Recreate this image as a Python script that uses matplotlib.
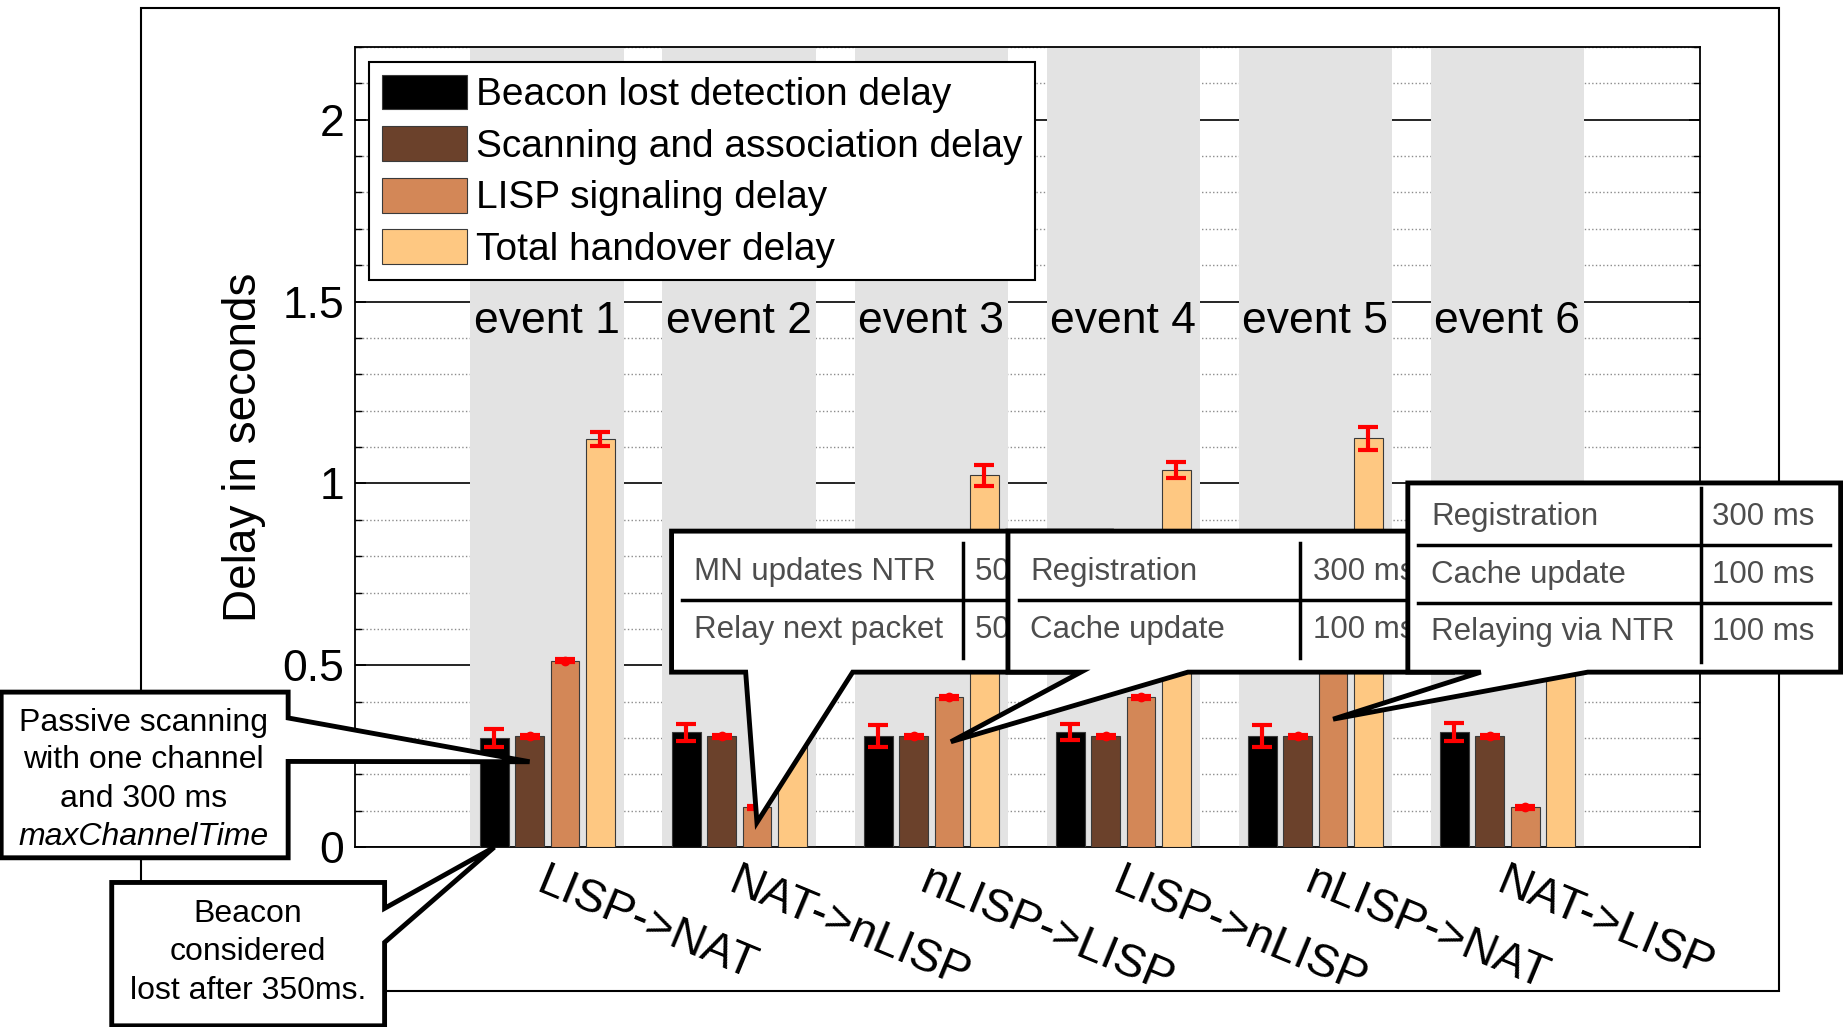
import matplotlib
matplotlib.use('Agg')
import matplotlib.pyplot as plt
import numpy as np
from matplotlib.patches import Polygon, Rectangle
from matplotlib.lines import Line2D
from matplotlib.transforms import Bbox, TransformedBbox
from matplotlib.ticker import MultipleLocator, FormatStrFormatter

plt.rcParams['font.family'] = ['Liberation Sans', 'DejaVu Sans']

#==================== data ====================
transitions = ['LISP->NAT', 'NAT->nLISP', 'nLISP->LISP', 'LISP->nLISP', 'nLISP->NAT', 'NAT->LISP']
events = ['event 1', 'event 2', 'event 3', 'event 4', 'event 5', 'event 6']
series_names = ['Beacon lost detection delay', 'Scanning and association delay',
                'LISP signaling delay', 'Total handover delay']

beacon = [0.300, 0.316, 0.305, 0.316, 0.305, 0.316]
scanning = [0.305, 0.305, 0.305, 0.305, 0.305, 0.305]
lisp_sig = [0.513, 0.110, 0.412, 0.412, 0.515, 0.110]
total = [1.122, 0.730, 1.023, 1.036, 1.124, 0.730]

beacon_err = [0.025, 0.023, 0.030, 0.022, 0.030, 0.025]
scanning_err = [0.004, 0.004, 0.004, 0.004, 0.004, 0.004]
lisp_err = [0.004, 0.004, 0.004, 0.004, 0.004, 0.004]
total_err = [0.020, 0.020, 0.029, 0.022, 0.031, 0.020]

# callout tables
ntr_rows = ['MN updates NTR', 'Relay next packet']
ntr_vals = ['50 ms', '50 ms']
lisp_rows = ['Registration', 'Cache update']
lisp_vals = ['300 ms', '100 ms']
nat_rows = ['Registration', 'Cache update', 'Relaying via NTR']
nat_vals = ['300 ms', '100 ms', '100 ms']

colors = ['#000000', '#6b412b', '#d38757', '#fec882']

#==================== figure / axes ====================
W, H = 1567.0, 874.0   # reference layout grid


def fx(x):
    return x / W


def fy(y):
    return 1 - y / H


fig = plt.figure(figsize=(18.43, 10.27), dpi=100)
ax = fig.add_axes([fx(302), fy(721), fx(1445) - fx(302), fy(40) - fy(721)])

centers = np.arange(1, len(events) + 1)
offsets = [-0.276, -0.092, 0.092, 0.276]
bar_w = 0.15

ax.set_xlim(0, 7)
ax.set_ylim(0, 2.2)

# gray event bands
for c in centers:
    ax.axvspan(c - 0.4, c + 0.4, color='#e3e3e3', lw=0, zorder=1)

vals = [beacon, scanning, lisp_sig, total]
errs = [beacon_err, scanning_err, lisp_err, total_err]
marks = [None, 'o', 'o', None]
handles = []
for i in range(4):
    b = ax.bar(centers + offsets[i], vals[i], width=bar_w, color=colors[i],
               edgecolor='#3a3a3a', linewidth=0.8, zorder=3, label=series_names[i])
    handles.append(b)
    ax.errorbar(centers + offsets[i], vals[i], yerr=errs[i], fmt='none' if marks[i] is None else marks[i],
                color='red', ecolor='red', elinewidth=3, capsize=7, capthick=3,
                markersize=6, zorder=4)

for c, ev in zip(centers, events):
    ax.text(c, 1.445, ev, ha='center', va='center', fontsize=32, zorder=2)

#==================== axis styling ====================
ax.set_yticks([0, 0.5, 1, 1.5, 2])
ax.yaxis.set_minor_locator(MultipleLocator(0.1))
ax.yaxis.set_major_formatter(FormatStrFormatter('%g'))
ax.tick_params(axis='y', which='both', direction='in', left=True, right=True, labelsize=32, pad=8)
ax.tick_params(axis='y', which='major', length=8, width=1.2)
ax.tick_params(axis='y', which='minor', length=5, width=1.0)
ax.set_xticks(centers)
ax.set_xticklabels(transitions, rotation=-22.5, ha='left', va='top', rotation_mode='anchor', fontsize=33.5)
ax.tick_params(axis='x', direction='in', top=True, length=6, pad=9)

ax.yaxis.grid(True, which='major', color='black', lw=1.2, ls='-')
ax.yaxis.grid(True, which='minor', color='#8c8c8c', lw=1.0, ls=':')
ax.set_axisbelow(True)
for s in ax.spines.values():
    s.set_linewidth(1.3)

ax.set_ylabel('Delay in seconds', fontsize=33, labelpad=12)

leg = ax.legend(handles=handles, loc='upper left', bbox_to_anchor=(0.0105, 0.981), fontsize=28,
                frameon=True, fancybox=False, edgecolor='black', framealpha=1, borderaxespad=0,
                handlelength=2.18, handleheight=1.0, handletextpad=0.25, labelspacing=0.33, borderpad=0.32)
leg.get_frame().set_linewidth(1.5)

# outer frame around the plot
fig.add_artist(Rectangle((fx(120), fy(843)), fx(1513) - fx(120), fy(7) - fy(843),
                         transform=fig.transFigure, fill=False, ec='black', lw=1.5, zorder=0.5))


#==================== callouts ====================
def to_fig(x, y):
    p = ax.transData.transform((x, y))
    return fig.transFigure.inverted().transform(p)


def callout(box, wedge, tip, side, z):
    L, T, R, B = fx(box[0]), fy(box[1]), fx(box[2]), fy(box[3])
    if side == 'bottom':
        pts = [(L, T), (R, T), (R, B), (fx(wedge[1]), B), tip, (fx(wedge[0]), B), (L, B)]
    else:
        pts = [(L, T), (R, T), (R, fy(wedge[0])), tip, (R, fy(wedge[1])), (R, B), (L, B)]
    fig.add_artist(Polygon(pts, closed=True, transform=fig.transFigure, fc='white', ec='black',
                           lw=3.5, joinstyle='miter', zorder=z))


def table(rows, values, box, col_x, text_x, val_x, row_y, div_y, vtop, vbot, z, clip_x=None):
    for r, v, y in zip(rows, values, row_y):
        fig.text(fx(text_x), fy(y), r, fontsize=22.5, color='#4d4d4d', ha='left', va='center', zorder=z)
        t = fig.text(fx(val_x), fy(y), v, fontsize=22.5, color='#4d4d4d', ha='left', va='center', zorder=z)
        if clip_x is not None:
            # the next callout sits on top of this column
            t.set_clip_box(TransformedBbox(Bbox([[fx(box[0]), fy(box[3])], [fx(clip_x), fy(box[1])]]),
                                           fig.transFigure))
            t.set_clip_on(True)
    for y in div_y:
        fig.add_artist(Line2D([fx(box[0] + 9), fx(box[2] - 9)], [fy(y), fy(y)], color='black', lw=2.5,
                              transform=fig.transFigure, zorder=z))
    fig.add_artist(Line2D([fx(col_x), fx(col_x)], [fy(vtop), fy(vbot)], color='black', lw=2.5,
                          transform=fig.transFigure, zorder=z))


# passive scanning -> scanning bar of event 1
callout((1, 589, 245, 730), (611, 648), to_fig(centers[0] + offsets[1], 0.235), 'right', 10)
for s, y in zip(['Passive scanning', 'with one channel', 'and 300 ms'], [615, 647, 680]):
    fig.text(fx(122), fy(y), s, fontsize=23, ha='center', va='center', zorder=10.5)
fig.text(fx(122), fy(712), 'maxChannelTime', fontsize=23, style='italic', ha='center', va='center', zorder=10.5)

# beacon -> beacon bar of event 1
callout((95, 751, 327, 873), (773, 802), to_fig(centers[0] + offsets[0], 0.0), 'right', 10)
for s, y in zip(['Beacon', 'considered', 'lost after 350ms.'], [778, 810, 843]):
    fig.text(fx(211), fy(y), s, fontsize=23, ha='center', va='center', zorder=10.5)

# NAT->nLISP signaling
callout((571, 452, 945, 572), (634, 725), to_fig(centers[1] + offsets[2], 0.068), 'bottom', 11)
table(ntr_rows, ntr_vals, (571, 452, 945, 572), 819, 590, 829, [487, 536], [511], 462, 560, 11.5, clip_x=857)

# nLISP->LISP signaling
callout((857, 452, 1235, 572), (919, 1010), to_fig(centers[2] + offsets[2] + 0.01, 0.29), 'bottom', 12)
table(lisp_rows, lisp_vals, (857, 452, 1235, 572), 1105, 876, 1116, [487, 536], [511], 462, 560, 12.5, clip_x=1197)

# nLISP->NAT signaling
callout((1197, 411, 1565, 572), (1259, 1350), to_fig(centers[4] + offsets[2], 0.352), 'bottom', 13)
table(nat_rows, nat_vals, (1197, 411, 1565, 572), 1446, 1217, 1456, [440, 489, 538], [464, 513], 415, 563, 13.5)

fig.savefig('out.png', dpi=100)
